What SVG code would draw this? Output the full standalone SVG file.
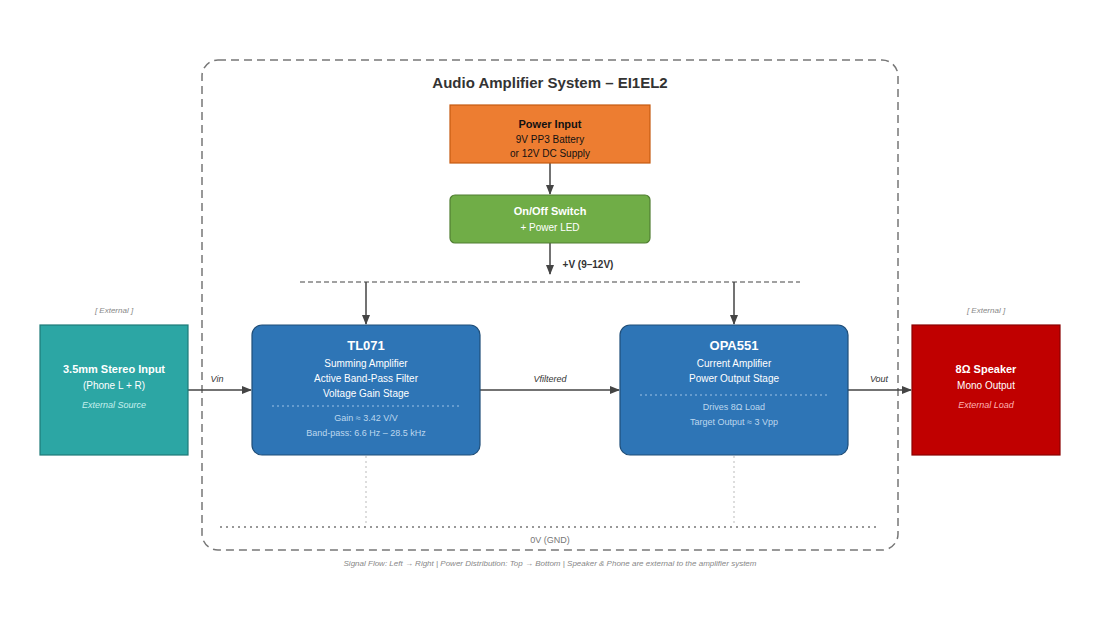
<svg xmlns="http://www.w3.org/2000/svg" width="1110" height="634" viewBox="0 0 1110 634">
<defs>
<marker id="ar" markerWidth="10" markerHeight="8" refX="9" refY="4" orient="auto" markerUnits="userSpaceOnUse"><path d="M0,0 L10,4 L0,8 z" fill="#444"/></marker>
<style>
text{font-family:"Liberation Sans",Arial,sans-serif;text-anchor:middle}
.w{fill:#fff}
.t{font-size:13px;font-weight:bold}
.s{font-size:10px}
.sm{font-size:9px}
.it{font-style:italic}
.ln{stroke:#444;stroke-width:1.5;fill:none}
</style>
</defs>
<rect width="1110" height="634" fill="#fff"/>
<rect x="202" y="60" width="696" height="490" rx="16" fill="none" stroke="#777" stroke-width="1.5" stroke-dasharray="8,5"/>
<text x="550" y="88" style="font-size:15px;font-weight:bold" fill="#333">Audio Amplifier System – EI1EL2</text>
<g id="connectors">
<line class="ln" x1="550" y1="163" x2="550" y2="194" marker-end="url(#ar)"/>
<line class="ln" x1="550" y1="243" x2="550" y2="274" marker-end="url(#ar)"/>
<text x="588" y="268" style="font-size:10px;font-weight:bold" fill="#333">+V (9–12V)</text>
<line x1="300" y1="282" x2="800" y2="282" stroke="#444" stroke-width="1.2" stroke-dasharray="5,3"/>
<line class="ln" x1="366" y1="282" x2="366" y2="324" marker-end="url(#ar)"/>
<line class="ln" x1="734" y1="282" x2="734" y2="324" marker-end="url(#ar)"/>
<line class="ln" x1="188" y1="390" x2="251" y2="390" marker-end="url(#ar)"/>
<text x="217" y="382" class="sm it" fill="#333">Vin</text>
<line class="ln" x1="480" y1="390" x2="619" y2="390" marker-end="url(#ar)"/>
<text x="550" y="382" class="sm it" fill="#333">Vfiltered</text>
<line class="ln" x1="848" y1="390" x2="911" y2="390" marker-end="url(#ar)"/>
<text x="879" y="382" class="sm it" fill="#333">Vout</text>
<line x1="366" y1="456" x2="366" y2="526" stroke="#bbb" stroke-dasharray="2,3"/>
<line x1="734" y1="456" x2="734" y2="526" stroke="#bbb" stroke-dasharray="2,3"/>
<line x1="220" y1="527" x2="880" y2="527" stroke="#777" stroke-width="1.5" stroke-dasharray="2,4"/>
<text x="550" y="543" class="sm" fill="#777">0V (GND)</text>
</g>
<g id="power"><rect x="450" y="105" width="200" height="58" fill="#ed7d31" stroke="#c55a11" stroke-width="1.2"/>
<text x="550" y="128" style="font-size:11px;font-weight:bold" fill="#111">Power Input</text>
<text x="550" y="143" class="s" fill="#111">9V PP3 Battery</text>
<text x="550" y="157" class="s" fill="#111">or 12V DC Supply</text></g>
<g id="switch"><rect x="450" y="195" width="200" height="48" rx="5" fill="#70ad47" stroke="#507e32" stroke-width="1.2"/>
<text x="550" y="215" style="font-size:11px;font-weight:bold" class="w">On/Off Switch</text>
<text x="550" y="231" class="s w">+ Power LED</text></g>
<g id="input"><text x="114" y="313" style="font-size:8px" class="it" fill="#888">[ External ]</text>
<rect x="40" y="325" width="148" height="130" fill="#2ca6a4" stroke="#1e7b79" stroke-width="1.2"/>
<text x="114" y="373" style="font-size:11px;font-weight:bold" class="w">3.5mm Stereo Input</text>
<text x="114" y="389" class="s w">(Phone L + R)</text>
<text x="114" y="408" class="sm it" fill="#c6f0ee">External Source</text></g>
<g id="tl071"><rect x="252" y="325" width="228" height="130" rx="10" fill="#2e75b6" stroke="#1f4e79" stroke-width="1.2"/>
<text x="366" y="350" class="t w">TL071</text>
<text x="366" y="367" class="s w">Summing Amplifier</text>
<text x="366" y="382" class="s w">Active Band-Pass Filter</text>
<text x="366" y="397" class="s w">Voltage Gain Stage</text>
<line x1="272" y1="406" x2="460" y2="406" stroke="#9dc3e6" stroke-dasharray="2,3"/>
<text x="366" y="421" class="sm" fill="#bdd7ee">Gain ≈ 3.42 V/V</text>
<text x="366" y="436" class="sm" fill="#bdd7ee">Band-pass: 6.6 Hz – 28.5 kHz</text></g>
<g id="opa551"><rect x="620" y="325" width="228" height="130" rx="10" fill="#2e75b6" stroke="#1f4e79" stroke-width="1.2"/>
<text x="734" y="350" class="t w">OPA551</text>
<text x="734" y="367" class="s w">Current Amplifier</text>
<text x="734" y="382" class="s w">Power Output Stage</text>
<line x1="640" y1="395" x2="828" y2="395" stroke="#9dc3e6" stroke-dasharray="2,3"/>
<text x="734" y="410" class="sm" fill="#bdd7ee">Drives 8Ω Load</text>
<text x="734" y="425" class="sm" fill="#bdd7ee">Target Output ≈ 3 Vpp</text></g>
<g id="speaker"><text x="986" y="313" style="font-size:8px" class="it" fill="#888">[ External ]</text>
<rect x="912" y="325" width="148" height="130" fill="#c00000" stroke="#8b0000" stroke-width="1.2"/>
<text x="986" y="373" style="font-size:11px;font-weight:bold" class="w">8Ω Speaker</text>
<text x="986" y="389" class="s w">Mono Output</text>
<text x="986" y="408" class="sm it" fill="#ffb3b3">External Load</text></g>
<text x="550" y="566" style="font-size:8px" class="it" fill="#888">Signal Flow: Left → Right | Power Distribution: Top → Bottom | Speaker &amp; Phone are external to the amplifier system</text>
</svg>
